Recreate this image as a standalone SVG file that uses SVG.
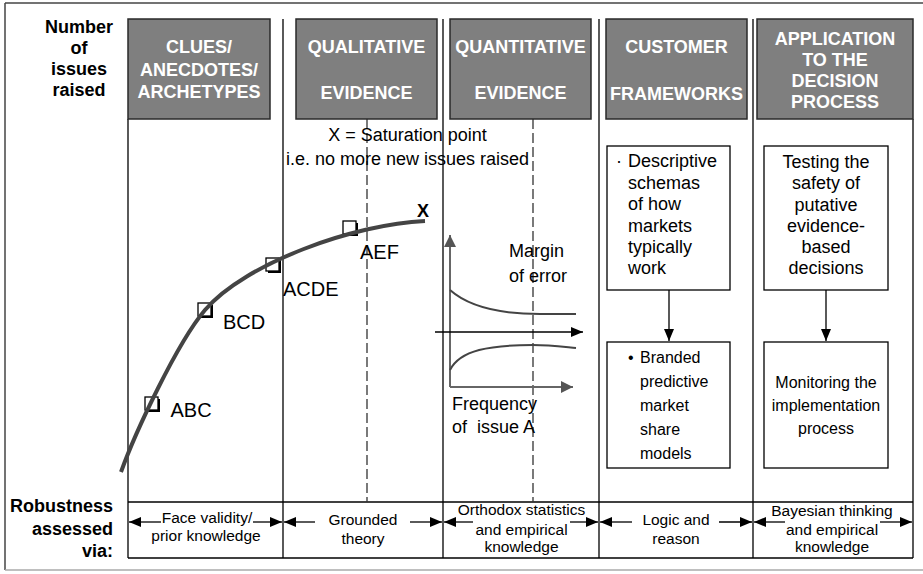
<svg xmlns="http://www.w3.org/2000/svg" width="923" height="574" viewBox="0 0 923 574">
<style>
.frame{stroke:#444;stroke-width:1.5;fill:none}
.hdr{fill:#7f7f7f;stroke:#2a2a2a;stroke-width:1.5}
.ht{font-family:"Liberation Sans",Arial,sans-serif;font-weight:bold;font-size:18px;fill:#fff;text-anchor:middle}
.lb{font-family:"Liberation Sans",Arial,sans-serif;font-weight:bold;font-size:18px;fill:#000}
.col{stroke:#000;stroke-width:1.3;fill:none}
.dash{stroke:#333;stroke-width:1.3;stroke-dasharray:10 4;fill:none}
.t18{font-family:"Liberation Sans",Arial,sans-serif;font-size:18px;fill:#000}
.t20{font-family:"Liberation Sans",Arial,sans-serif;font-size:20px;fill:#000}
.t16{font-family:"Liberation Sans",Arial,sans-serif;font-size:16px;fill:#000}
.t155{font-family:"Liberation Sans",Arial,sans-serif;font-size:15.5px;fill:#000;text-anchor:middle}
.box{fill:#fff;stroke:#000;stroke-width:1.3}
.sq{fill:#fff;stroke:#000;stroke-width:1.3}
.sqs{fill:#000}
.arr{stroke:#000;stroke-width:1.3;fill:none;marker-end:url(#ah)}
.garr{stroke:#666;stroke-width:2;fill:none;marker-end:url(#gah)}
.gc{stroke:#444;stroke-width:2;fill:none}
.mid{text-anchor:middle}
</style>
<defs>
<marker id="ah" viewBox="0 0 12 10" refX="12" refY="5" markerWidth="12" markerHeight="10" markerUnits="userSpaceOnUse" orient="auto">
<path d="M0,0 L12,5 L0,10 z" fill="#000"/>
</marker>
<marker id="gah" viewBox="0 0 12 12" refX="12" refY="6" markerWidth="12" markerHeight="12" markerUnits="userSpaceOnUse" orient="auto">
<path d="M0,0 L12,6 L0,12 z" fill="#555"/>
</marker>
</defs>
<rect width="923" height="574" fill="#fff"/>
<line x1="5" y1="3" x2="923" y2="3" class="frame"/>
<line x1="5" y1="3" x2="5" y2="570" class="frame"/>
<line x1="5" y1="570" x2="923" y2="570" stroke="#aaa" stroke-width="1.5"/>

<g id="grid">
<line x1="128" y1="119" x2="128" y2="558" class="col"/>
<line x1="283" y1="19" x2="283" y2="558" class="col"/>
<line x1="443" y1="19" x2="443" y2="558" class="col"/>
<line x1="599" y1="19" x2="599" y2="558" class="col"/>
<line x1="753" y1="19" x2="753" y2="558" class="col"/>
<line x1="913" y1="119" x2="913" y2="558" class="col"/>
<line x1="128" y1="502" x2="913" y2="502" class="col"/>
<line x1="128" y1="558" x2="913" y2="558" class="col"/>
<line x1="367" y1="119" x2="367" y2="502" class="dash"/>
<line x1="533" y1="119" x2="533" y2="502" class="dash"/>
</g>

<g id="ylabel">
<text class="lb mid" x="79" y="33">Number</text>
<text class="lb mid" x="79" y="54">of</text>
<text class="lb mid" x="79" y="75">issues</text>
<text class="lb mid" x="79" y="96">raised</text>
</g>

<g id="h-clues">
<rect class="hdr" x="128" y="19" width="142" height="100"/>
<text class="ht" x="199" y="53">CLUES/</text>
<text class="ht" x="199" y="76">ANECDOTES/</text>
<text class="ht" x="199" y="98">ARCHETYPES</text>
</g>
<g id="h-qual">
<rect class="hdr" x="296" y="19" width="141" height="100"/>
<text class="ht" x="366.5" y="53">QUALITATIVE</text>
<text class="ht" x="366.5" y="99">EVIDENCE</text>
</g>
<g id="h-quant">
<rect class="hdr" x="450" y="19" width="141" height="100"/>
<text class="ht" x="520.5" y="53">QUANTITATIVE</text>
<text class="ht" x="520.5" y="99">EVIDENCE</text>
</g>
<g id="h-cust">
<rect class="hdr" x="606" y="19" width="141" height="100"/>
<text class="ht" x="676.5" y="53">CUSTOMER</text>
<text class="ht" x="676.5" y="100">FRAMEWORKS</text>
</g>
<g id="h-app">
<rect class="hdr" x="757" y="19" width="156" height="100"/>
<text class="ht" x="835" y="45">APPLICATION</text>
<text class="ht" x="835" y="66">TO THE</text>
<text class="ht" x="835" y="87">DECISION</text>
<text class="ht" x="835" y="108">PROCESS</text>
</g>

<g id="saturation-note">
<text class="t18 mid" x="407.5" y="141">X = Saturation point</text>
<text class="t18 mid" x="407.5" y="165">i.e. no more new issues raised</text>
</g>

<g id="curve">
<rect class="sqs" x="147" y="399" width="13" height="13"/>
<rect class="sq" x="145" y="397" width="13" height="13"/>
<rect class="sqs" x="200" y="305" width="13" height="13"/>
<rect class="sq" x="198" y="303" width="13" height="13"/>
<rect class="sqs" x="268" y="260" width="13" height="13"/>
<rect class="sq" x="266" y="258" width="13" height="13"/>
<rect class="sqs" x="345" y="223" width="13" height="13"/>
<rect class="sq" x="343" y="221" width="13" height="13"/>
<path d="M121,472 C135,433 177,343 205,310 C245,263 355,224 425,221" stroke="#444" stroke-width="4" fill="none"/>
<text class="t20" x="170.5" y="417">ABC</text>
<text class="t20" x="223" y="328.5">BCD</text>
<text class="t20" x="283" y="296">ACDE</text>
<text class="t20" x="360" y="258.5">AEF</text>
<text class="lb" x="417" y="217" font-size="19">X</text>
</g>

<g id="error-chart">
<line x1="450" y1="387" x2="450" y2="235" class="garr"/>
<line x1="450" y1="387" x2="573" y2="387" class="garr"/>
<line x1="435" y1="332" x2="583" y2="332" class="arr"/>
<path d="M450,290 C468,306 500,314 540,314 L576,314" class="gc"/>
<path d="M450,370 C460,350 490,345 533,345 C550,345 565,347 576,348" class="gc"/>
<text class="t18" x="509" y="257">Margin</text>
<text class="t18" x="509" y="282">of error</text>
<text class="t18" x="452" y="410">Frequency</text>
<text class="t18" x="452" y="433" xml:space="preserve">of  issue A</text>
</g>

<g id="n-descriptive">
<rect class="box" x="607" y="146" width="123" height="144"/>
<text class="t18" x="616" y="167">·</text>
<text class="t18" x="628" y="167">Descriptive</text>
<text class="t18" x="628" y="189">schemas</text>
<text class="t18" x="628" y="210">of how</text>
<text class="t18" x="628" y="231.5">markets</text>
<text class="t18" x="628" y="252.5">typically</text>
<text class="t18" x="628" y="273.5">work</text>
</g>
<g id="n-branded">
<rect class="box" x="607" y="342" width="123" height="126"/>
<text class="t16" x="628" y="363" font-size="13">•</text>
<text class="t16" x="640" y="363">Branded</text>
<text class="t16" x="640" y="387">predictive</text>
<text class="t16" x="640" y="411">market</text>
<text class="t16" x="640" y="435">share</text>
<text class="t16" x="640" y="459">models</text>
</g>
<g id="n-testing">
<rect class="box" x="764" y="146" width="124" height="144"/>
<text class="t18 mid" x="826" y="168">Testing the</text>
<text class="t18 mid" x="826" y="189">safety of</text>
<text class="t18 mid" x="826" y="210.5">putative</text>
<text class="t18 mid" x="826" y="231.5">evidence-</text>
<text class="t18 mid" x="826" y="253">based</text>
<text class="t18 mid" x="826" y="274">decisions</text>
</g>
<g id="n-monitoring">
<rect class="box" x="764" y="342" width="124" height="126"/>
<text class="t16 mid" x="826" y="388">Monitoring the</text>
<text class="t16 mid" x="826" y="411">implementation</text>
<text class="t16 mid" x="826" y="434">process</text>
</g>

<g id="connectors">
<line x1="669" y1="290" x2="669" y2="341" class="arr"/>
<line x1="826" y1="290" x2="826" y2="341" class="arr"/>
<line x1="161" y1="522" x2="129" y2="522" class="arr"/>
<line x1="253" y1="522" x2="282" y2="522" class="arr"/>
<line x1="315" y1="522" x2="284" y2="522" class="arr"/>
<line x1="410" y1="522" x2="442" y2="522" class="arr"/>
<line x1="473" y1="522" x2="444" y2="522" class="arr"/>
<line x1="570" y1="522" x2="598" y2="522" class="arr"/>
<line x1="632" y1="522" x2="600" y2="522" class="arr"/>
<line x1="719" y1="522" x2="752" y2="522" class="arr"/>
<line x1="785" y1="522" x2="754" y2="522" class="arr"/>
<line x1="880" y1="522" x2="912" y2="522" class="arr"/>
</g>

<g id="robustness">
<text class="lb" x="113" y="512" font-size="16" text-anchor="end">Robustness</text>
<text class="lb" x="113" y="534.5" font-size="16" text-anchor="end">assessed</text>
<text class="lb" x="113" y="557" font-size="16" text-anchor="end">via:</text>
<text class="t155" x="207" y="523">Face validity/</text>
<text class="t155" x="206" y="541">prior knowledge</text>
<text class="t155" x="363" y="525">Grounded</text>
<text class="t155" x="363" y="543.5">theory</text>
<text class="t155" x="521.5" y="515">Orthodox statistics</text>
<text class="t155" x="521.5" y="535">and empirical</text>
<text class="t155" x="521.5" y="552">knowledge</text>
<text class="t155" x="676" y="525">Logic and</text>
<text class="t155" x="676" y="544">reason</text>
<text class="t155" x="832" y="516">Bayesian thinking</text>
<text class="t155" x="832" y="535">and empirical</text>
<text class="t155" x="832" y="552">knowledge</text>
</g>
</svg>
